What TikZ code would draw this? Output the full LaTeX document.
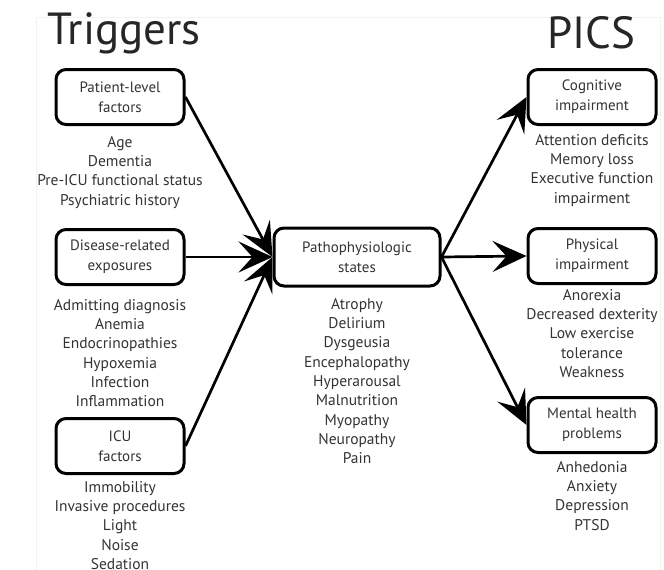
\documentclass[tikz,border=0pt]{standalone}
\usepackage{fontspec}
\setmainfont{PT Sans}
\usetikzlibrary{arrows.meta}
\definecolor{txt}{HTML}{333333}
\tikzset{
  box/.style={draw=black, line width=3pt, rounded corners=10pt, minimum width=128pt, minimum height=55pt, align=center, font=\fontsize{15}{20}\selectfont, text=txt, inner sep=0pt},
  lst/.style={align=center, font=\fontsize{15.5}{19.3}\selectfont, text=txt, anchor=north, inner sep=0pt},
  ttl/.style={font=\fontsize{45}{45}\selectfont, text=black!85, inner sep=0pt},
  arr/.style={line width=2.7pt, -{Stealth[length=34pt, width=31pt, inset=14pt]}},
}
\begin{document}
\begin{tikzpicture}[x=1pt, y=-1pt]
\useasboundingbox (0,0) rectangle (664,570);
\draw[gray!10, line width=0.8pt] (36,570) -- (36,17) -- (660,17) -- (660,570);
% titles
\node[ttl] (t1) at (124,33) {Triggers};
\node[ttl] (t2) at (591,33) {PICS};
% left boxes
\node[box] (pat) at (120,97) {Patient-level\\factors};
\node[lst] (patl) at (120,136) {Age\\Dementia\\Pre-ICU functional status\\Psychiatric history};
\node[box] (dis) at (120,257) {Disease-related\\exposures};
\node[lst] (disl) at (120,299) {Admitting diagnosis\\Anemia\\Endocrinopathies\\Hypoxemia\\Infection\\Inflammation};
\node[box] (icu) at (120,446) {ICU\\factors};
\node[lst] (icul) at (120,481) {Immobility\\Invasive procedures\\Light\\Noise\\Sedation};
% center
\node[box, minimum width=166pt, minimum height=58pt] (pat2) at (357,257) {Pathophysiologic\\states};
\node[lst] (pat2l) at (357,298) {Atrophy\\Delirium\\Dysgeusia\\Encephalopathy\\Hyperarousal\\Malnutrition\\Myopathy\\Neuropathy\\Pain};
% right
\node[box] (cog) at (592,97) {Cognitive\\impairment};
\node[lst] (cogl) at (592,134) {Attention deficits\\Memory loss\\Executive function\\impairment};
\node[box] (phy) at (592,256) {Physical\\impairment};
\node[lst] (phyl) at (592,289) {Anorexia\\Decreased dexterity\\Low exercise\\tolerance\\Weakness};
\node[box] (men) at (592,425) {Mental health\\problems};
\node[lst] (menl) at (592,461) {Anhedonia\\Anxiety\\Depression\\PTSD};
% arrows
\draw[arr] (pat.east) -- (pat2.west);
\draw[arr] (dis.east) -- (pat2.west);
\draw[arr] (icu.east) -- (pat2.west);
\draw[arr] (pat2.east) -- (cog.west);
\draw[arr] (pat2.east) -- (phy.west);
\draw[arr] (pat2.east) -- (men.west);
\end{tikzpicture}
\end{document}
